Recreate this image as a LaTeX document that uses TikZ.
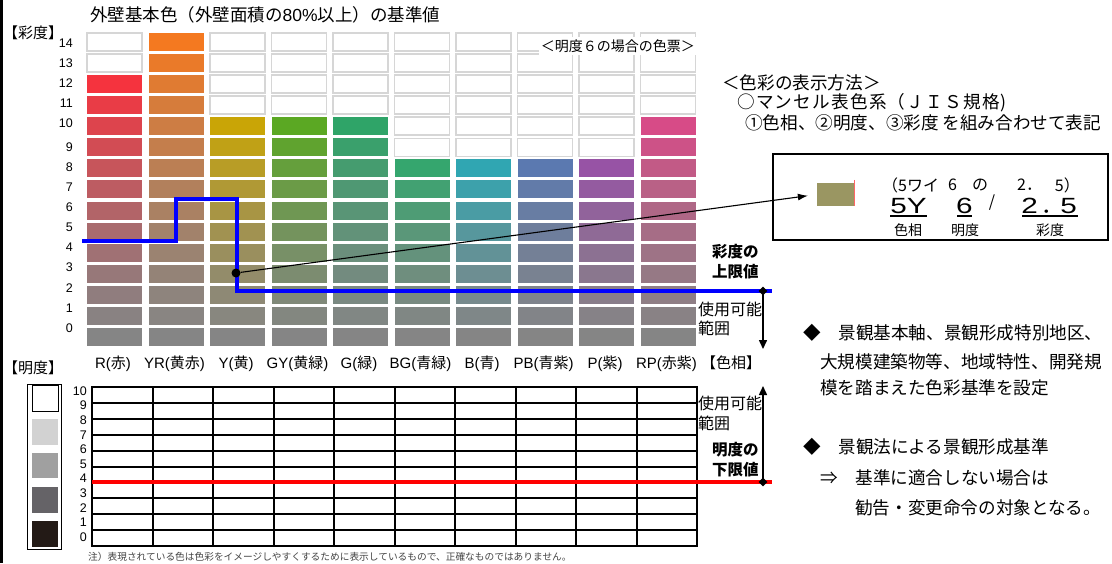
\documentclass[tikz,border=0pt]{standalone}
\usepackage{fontspec}
\usepackage{graphicx}
\setmainfont{Liberation Sans}
\newfontfamily\jp{Noto Sans CJK JP}
\newfontfamily\jpwide{Noto Sans CJK JP}[LetterSpace=7]
\usetikzlibrary{arrows.meta,shapes.geometric}
\definecolor{cgray}{RGB}{133,133,133}
\definecolor{hR}{HTML}{F5333E}
\definecolor{hYR}{HTML}{F47920}
\definecolor{hY}{HTML}{C9A506}
\definecolor{hGY}{HTML}{5BA823}
\definecolor{hG}{HTML}{2FA468}
\definecolor{hBG}{HTML}{35A66E}
\definecolor{hB}{HTML}{30A6B2}
\definecolor{hPB}{HTML}{5B79B0}
\definecolor{hP}{HTML}{9753A5}
\definecolor{hRP}{HTML}{D74B87}
\definecolor{cellline}{HTML}{D6D6D6}
\definecolor{swatchol}{HTML}{9A9662}
\definecolor{limblue}{HTML}{0000FF}
\definecolor{notegray}{HTML}{444444}
\definecolor{vA}{HTML}{D2D2D2}
\definecolor{vB}{HTML}{A0A0A0}
\definecolor{vC}{HTML}{656367}
\definecolor{vD}{HTML}{231A16}
\tikzset{
  emptycell/.style={fill=white,draw=cellline,line width=1.6},
  numlab/.style={anchor=east,inner sep=0,font=\fontsize{12.5}{12.5}\selectfont},
  huelab/.style={inner sep=0,font=\fontsize{15}{15}\selectfont},
  bracklab/.style={inner sep=0,font=\jp\fontsize{15}{15}\selectfont},
  jptext/.style={anchor=west,inner sep=0,font=\jp\fontsize{17.6}{17.6}\selectfont},
  sidelab/.style={anchor=west,inner sep=0,font=\jp\fontsize{16}{16}\selectfont},
  limlab/.style={anchor=west,inner sep=0,font=\jp\bfseries\fontsize{15.5}{15.5}\selectfont},
  boxsmall/.style={inner sep=0,font=\jp\fontsize{16}{16}\selectfont},
  boxbig/.style={inner sep=0,anchor=base,font=\fontsize{22}{22}\selectfont},
  boxlab/.style={inner sep=0,font=\jp\fontsize{14}{14}\selectfont},
  gridline/.style={line width=2},
  limmark/.style={diamond,fill=black,inner sep=0,minimum size=9},
  rangearrow/.style={line width=1.5,-{Triangle[length=9,width=8]}},
  swatchbox/.style={draw=black,line width=0.8,minimum width=26,minimum height=26,inner sep=0},
}
\begin{document}
\begin{tikzpicture}[x=1pt,y=-1pt]
\useasboundingbox (0,0) rectangle (1112,563);
\fill[white] (0,0) rectangle (1112,563);
\fill[black] (0,0) rectangle (3,563);

% title
\node[anchor=west,inner sep=0,font=\fontsize{17.5}{17.5}\selectfont] (title) at (90,15)
  {{\jp 外壁基本色（外壁面積の}80\%{\jp 以上）の基準値}};
\node[bracklab] (saido) at (33,33) {【彩度】};

% chroma chart cells
\foreach \hue/\cmax [count=\k from 0] in {hR/12,hYR/14,hY/10,hGY/10,hG/10,hBG/8,hB/8,hPB/8,hP/8,hRP/10}{
  \foreach \c in {0,...,14}{
    \pgfmathsetmacro\xl{87+\k*61.5}
    \pgfmathsetmacro\yt{33+(14-\c)*21.07}
    \ifnum\c>\cmax
      \draw[emptycell] (\xl,\yt) rectangle ++(55,18);
    \else
      \ifnum\c=0 \def\w{0}\else\pgfmathsetmacro\w{100*(\c/\cmax)^1.3}\fi
      \fill[\hue!\w!cgray] (\xl,\yt) rectangle ++(55,18);
    \fi
  }
}
\node[fill=white,inner sep=2,anchor=east,font=\jp\fontsize{14}{14}\selectfont] (note6) at (697,46) {＜明度６の場合の色票＞};

% chroma labels
\foreach \c in {14,13,12,11,10}{
  \node[numlab] (cl\c) at (73,{43+(14-\c)*20}) {\c};
}
\foreach \c in {9,...,0}{
  \node[numlab] (cl\c) at (73,{147+(9-\c)*20.1}) {\c};
}

% hue labels
\foreach \a/\b [count=\k from 0] in {R/赤,YR/黄赤,Y/黄,GY/黄緑,G/緑,BG/青緑,B/青,PB/青紫,P/紫,RP/赤紫}{
  \node[huelab] (hl\k) at ({113+\k*61.5},364) {\a({\jp\b})};
}
\node[bracklab] (shiso) at (731,363) {【色相】};

% upper chroma limit line
\draw[limblue,line width=4] (82,241) -- (176,241) -- (176,199) -- (237,199) -- (237,291) -- (772,291);
\node[limmark] (cmax) at (763,291) {};
\coordinate (cbot) at (763,349);
\draw[rangearrow] (cmax.center) -- (cbot);
\node[limlab] (ul1) at (712,252) {彩度の};
\node[limlab] (ul2) at (712,272) {上限値};
\node[sidelab] (ra1) at (698,309) {使用可能};
\node[sidelab] (ra2) at (698,328) {範囲};

% sample point and explanation box
\node[circle,fill=black,inner sep=0,minimum size=9] (dot) at (236,273) {};
\node[draw=black,line width=1.3,minimum width=335,minimum height=86,inner sep=0] (box) at (940.5,197) {};
\node[fill=swatchol,minimum width=37,minimum height=23,inner sep=0] (sw) at (835.5,194.5) {};
\draw[red!60,line width=0.7] ([yshift=3pt]sw.north east) -- (sw.south east);
\draw[line width=1.1,-{Latex[length=10,width=7]},shorten >=9pt] (dot) -- (sw.west);

\node[boxsmall,anchor=west] (b1) at (882,185) {（5ワイ};
\node[boxsmall] (b2) at (952.5,185) {6};
\node[boxsmall] (b3) at (980,185) {の};
\node[boxsmall,anchor=west] (b4) at (1017,185) {2．};
\node[boxsmall,anchor=east] (b5) at (1080,185) {5）};

\node[boxbig] (c1) at (908.5,213) {\scalebox{1.35}[1]{5Y}};
\node[boxbig] (c2) at (964.5,213) {\scalebox{1.35}[1]{6}};
\node[boxsmall] (c3) at (992,203) {/};
\node[boxbig] (c4) at (1029.5,213) {\scalebox{1.35}[1]{2}};
\node[boxbig] (c5) at (1052,213) {{\jp ．}};
\node[boxbig] (c6) at (1068.5,213) {\scalebox{1.35}[1]{5}};
\draw[line width=1.5] (890,216) -- (927,216);
\draw[line width=1.5] (957,216) -- (972,216);
\draw[line width=1.5] (1022,216) -- (1078,216);
\node[boxlab] (d1) at (908,230) {色相};
\node[boxlab] (d2) at (965,230) {明度};
\node[boxlab] (d3) at (1050,230) {彩度};

% explanation text
\node[jptext] (t1) at (722,83) {＜色彩の表示方法＞};
\node[jptext,font=\jpwide\fontsize{17.6}{17.6}\selectfont] (t2) at (737,103) {○マンセル表色系（ＪＩＳ規格)};
\node[jptext] (t3) at (745,123) {①色相、②明度、③彩度 を組み合わせて表記};

\node[jptext] (r1) at (803,333) {◆　景観基本軸、景観形成特別地区、};
\node[jptext] (r2) at (820,362) {大規模建築物等、地域特性、開発規};
\node[jptext] (r3) at (820,388) {模を踏まえた色彩基準を設定};
\node[jptext] (r4) at (803,447) {◆　景観法による景観形成基準};
\node[jptext] (r5) at (820,478) {⇒　基準に適合しない場合は};
\node[jptext] (r6) at (855,508) {勧告・変更命令の対象となる。};

% value section
\node[bracklab] (meido) at (33,368) {【明度】};
\draw[line width=0.8] (27,384) rectangle (61,549);
\node[swatchbox,fill=white,anchor=north west,minimum height=26] (s10) at (32,385) {};
\fill[vA] (32,419) rectangle (58,445);
\fill[vB] (32,453) rectangle (58,478);
\fill[vC] (32,487) rectangle (58,513);
\fill[vD] (32,521) rectangle (58,547);

\foreach \v in {10,...,0}{
  \node[numlab] (vl\v) at (87,{391+(10-\v)*14.6}) {\v};
}
\foreach \i in {0,...,10}{
  \draw[gridline] (91,{387+\i*15.9}) -- (698,{387+\i*15.9});
}
\foreach \j in {0,...,10}{
  \draw[gridline] ({92+\j*60.5},387) -- ({92+\j*60.5},546);
}
\draw[red,line width=4] (92,482) -- (772,482);
\node[limmark] (vmin) at (763,482) {};
\coordinate (vtop) at (763,386);
\draw[rangearrow] (vmin.center) -- (vtop);
\node[sidelab] (rb1) at (698,403) {使用可能};
\node[sidelab] (rb2) at (698,423) {範囲};
\node[limlab] (ll1) at (712,450) {明度の};
\node[limlab] (ll2) at (712,470) {下限値};

\node[anchor=west,inner sep=0,text=notegray,font=\jp\fontsize{9.7}{9.7}\selectfont] (note) at (88,557)
  {注）表現されている色は色彩をイメージしやすくするために表示しているもので、正確なものではありません。};
\end{tikzpicture}
\end{document}
